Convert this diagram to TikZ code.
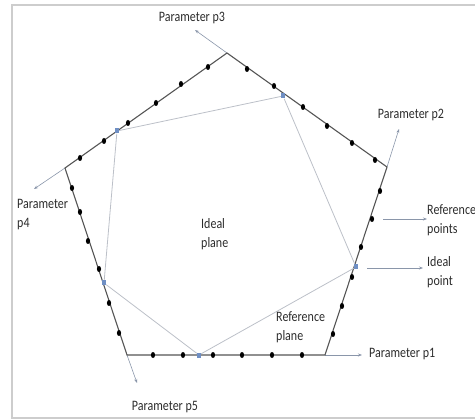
\documentclass[tikz,border=0pt]{standalone}
\usepackage{fontspec}
\usepackage{graphicx}
\setmainfont{Carlito}
\usetikzlibrary{arrows.meta,shapes.geometric}
\definecolor{edgegray}{HTML}{555555}
\definecolor{axisgray}{HTML}{8A96AA}
\definecolor{innergray}{HTML}{BCC0C8}
\definecolor{framegray}{HTML}{CDCDCD}
\definecolor{idealblue}{HTML}{6F8FC4}
\definecolor{txtgray}{HTML}{2C2C2C}
% label text, slightly stretched vertically
\newcommand{\lbltext}[1]{\scalebox{1}[1.2]{\begin{tabular}{@{}l@{}}#1\end{tabular}}}
\tikzset{
  edge/.style={draw=edgegray, line width=1.1pt},
  axisline/.style={draw=axisgray, line width=0.6pt, -{Stealth[length=4pt,width=3pt]}},
  inner/.style={draw=innergray, line width=0.8pt},
  refpt/.style={ellipse, fill=black, inner sep=0pt, minimum width=4.2pt, minimum height=6pt},
  idealpt/.style={rectangle, fill=idealblue, inner sep=0pt, minimum width=4pt, minimum height=5pt},
  lbl/.style={font=\fontsize{12}{16.6}\selectfont, text=txtgray, inner sep=0pt},
}
\begin{document}
\begin{tikzpicture}[x=1pt, y=-1pt]
\useasboundingbox (0,0) rectangle (475,420);
% outer frame (open on the right)
\draw[framegray, line width=1.3pt] (476,5) -- (12,5) -- (12,418) -- (476,418);

% pentagon corners and axis ends
\coordinate (vT) at (227,53);
\coordinate (vR) at (387,167);
\coordinate (vBR) at (325,355);
\coordinate (vBL) at (127,355);
\coordinate (vL) at (65,168);
\coordinate (e3) at (195,30);
\coordinate (e2) at (399,129);
\coordinate (e1) at (362,355);
\coordinate (e5) at (137,383);
\coordinate (e4) at (34,189);

% parameter axes, each continuing one side of the pentagon
\draw[axisline] (vT) -- (e3);
\draw[axisline] (vR) -- (e2);
\draw[axisline] (vBR) -- (e1);
\draw[axisline] (vBL) -- (e5);
\draw[axisline] (vL) -- (e4);

% reference plane
\draw[edge] (vT) -- (vR) -- (vBR) -- (vBL) -- (vL) -- cycle;

% ideal points
\node[idealpt] (i1) at (117,131) {};
\node[idealpt] (i2) at (283,96) {};
\node[idealpt] (i3) at (356,267) {};
\node[idealpt] (i4) at (199,355) {};
\node[idealpt] (i5) at (104,283) {};

% ideal plane
\draw[inner] (i1) -- (i2) -- (i3) -- (i4) -- (i5) -- (i1);
\foreach \n in {i1,i2,i3,i4,i5} \node[idealpt] at (\n) {};

% reference points along the sides
\foreach \p [count=\i] in {(80,158),(104,141),(128,123),(156,103),(181,84),(208,67)}
  \node[refpt] (ul\i) at \p {};
\foreach \p [count=\i] in {(247,69),(274,86),(303,107),(327,126),(352,143),(375,160)}
  \node[refpt] (ur\i) at \p {};
\foreach \p [count=\i] in {(380,191),(372,219),(361,247),(352,277),(342,306),(333,334)}
  \node[refpt] (lr\i) at \p {};
\foreach \p [count=\i] in {(153,355),(183,355),(213,355),(242,355),(272,355),(302,355)}
  \node[refpt] (bt\i) at \p {};
\foreach \p [count=\i] in {(72,188),(80,212),(88,241),(99,269),(109,303),(119,333)}
  \node[refpt] (ll\i) at \p {};

% labels
\node[lbl] (lp3) at (192,18) {\lbltext{Parameter p3}};
\node[lbl] (lp2) at (411,115) {\lbltext{Parameter p2}};
\node[lbl, anchor=west] (lp4) at (17,214) {\lbltext{Parameter\\p4}};
\node[lbl, anchor=west] (lp1) at (369,354) {\lbltext{Parameter p1}};
\node[lbl] (lp5) at (165,407) {\lbltext{Parameter p5}};
\node[lbl, anchor=west] (lip) at (201,234) {\lbltext{Ideal\\plane}};
\node[lbl, anchor=west] (lrp) at (276,327) {\lbltext{Reference\\plane}};
\node[lbl, anchor=west] (lrpt) at (427,220) {\lbltext{Reference\\points}};
\node[lbl, anchor=west] (lipt) at (427,272) {\lbltext{Ideal\\point}};

% pointers to the legend labels
\coordinate (rs) at (383,219);
\coordinate (is) at (367,268);
\draw[axisline] (rs) -- (lrpt.west |- rs);
\draw[axisline] (is) -- ([xshift=-4pt]lipt.west |- is);
\end{tikzpicture}
\end{document}
